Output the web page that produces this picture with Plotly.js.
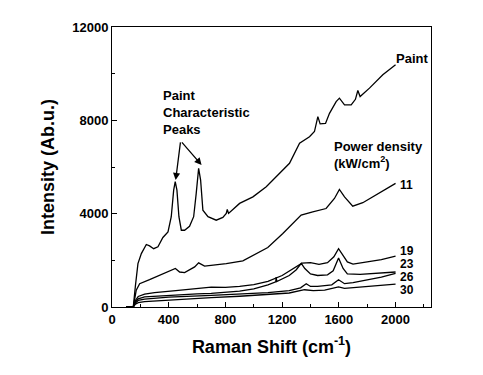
<!DOCTYPE html>
<html>
<head>
<meta charset="utf-8">
<script src="https://cdn.plot.ly/plotly-3.0.1.min.js"></script>
<style>html,body{margin:0;padding:0;background:#fff;}#chart{width:483px;height:375px;}</style>
</head>
<body>
<div id="chart"></div>
<script>
// Raman shift (cm^-1) and intensity for each spectrum
const paintX = [100,150,165,183,207,242,265,294,324,359,395,418,435,446,458,472,489,512,547,576,594,611,625,641,677,735,782,806,813,822,900,994,1088,1182,1252,1323,1393,1428,1452,1468,1506,1534,1581,1604,1640,1687,1717,1734,1750,1816,1910,2000];
const paintY = [0,0,900,1860,2290,2680,2620,2500,2580,2980,3220,3870,5010,5370,5010,3870,3290,3290,3460,3870,4870,5940,5440,4150,3870,3720,3840,4010,4180,4010,4440,4720,5150,5730,6160,7020,7300,7520,8160,7850,7870,8300,8800,8950,8660,8660,8900,9280,9020,9380,9950,10380];

const p11X = [100,150,171,195,265,359,418,447,477,512,583,611,653,806,923,1099,1205,1276,1334,1416,1510,1569,1604,1640,1698,1769,1863,2000];
const p11Y = [0,0,720,1000,1170,1430,1580,1650,1500,1477,1720,1890,1750,1860,1977,2550,3150,3580,3940,4080,4220,4650,5040,4720,4320,4470,4800,5300];

const p19X = [100,150,165,185,230,300,450,600,700,800,900,1000,1100,1200,1280,1340,1400,1460,1520,1565,1598,1625,1660,1700,1800,1900,2000];
const p19Y = [0,0,280,450,550,620,700,780,850,840,880,960,1100,1350,1650,1880,1900,1830,1900,2150,2500,2250,1930,1840,1920,2030,2180];

const p23X = [100,150,165,185,230,400,600,700,900,1000,1100,1155,1158,1162,1250,1300,1335,1360,1400,1450,1520,1560,1598,1630,1660,1750,1850,2000];
const p23Y = [0,0,220,350,430,500,560,580,680,780,950,1080,1280,1090,1350,1600,1870,1650,1420,1350,1380,1550,2100,1650,1420,1400,1430,1500];

const p26X = [100,150,165,185,230,400,700,900,1100,1250,1330,1370,1400,1450,1550,1598,1640,1700,1800,1900,2000];
const p26Y = [0,0,170,280,340,420,500,550,620,700,820,1000,880,880,950,1170,1000,1040,1150,1280,1440];

const p30X = [100,150,165,185,230,400,700,900,1100,1250,1358,1420,1500,1598,1640,1800,2000];
const p30Y = [0,0,120,190,230,300,400,460,530,600,740,700,720,860,800,870,980];

const seriesNames = ['Paint','11','19','23','26','30'];
const xTickVals = [0,400,800,1200,1600,2000];
const yTickVals = [0,4000,8000,12000];
const yTickText = ['0','4000','8000','12000'];

const FONT = 'Liberation Sans, Arial, Helvetica, sans-serif';
const xs = [paintX,p11X,p19X,p23X,p26X,p30X];
const ys = [paintY,p11Y,p19Y,p23Y,p26Y,p30Y];
const traces = xs.map((x,i)=>({
  x: x, y: ys[i], name: seriesNames[i], type:'scatter', mode:'lines',
  line:{color:'#000', width:1.3}, showlegend:false, hoverinfo:'skip'
}));

const labelFont = {family:FONT, size:13, color:'#000', weight:'bold'};
const numFont = {family:FONT, size:12, color:'#000', weight:'bold'};
const annotations = [
  {x:2000, y:10640, xref:'x', yref:'y', text:'Paint', showarrow:false, xanchor:'left', yanchor:'middle', xshift:-2, font:labelFont},
  {x:357, y:8320, xref:'x', yref:'y', text:'Paint<br>Characteristic<br>Peaks', showarrow:false, xanchor:'left', yanchor:'middle', align:'left', xshift:-2, font:labelFont},
  {x:1563, y:6495, xref:'x', yref:'y', text:'Power density<br>(kW/cm<sup>2</sup>)', showarrow:false, xanchor:'left', yanchor:'middle', align:'left', xshift:-2, font:labelFont},
  {x:2041, y:5230, xref:'x', yref:'y', text:'11', showarrow:false, xanchor:'left', yanchor:'middle', xshift:-2, borderpad:0, font:numFont},
  {x:2041, y:2420, xref:'x', yref:'y', text:'19', showarrow:false, xanchor:'left', yanchor:'middle', xshift:-2, borderpad:0, font:numFont},
  {x:2041, y:1860, xref:'x', yref:'y', text:'23', showarrow:false, xanchor:'left', yanchor:'middle', xshift:-2, borderpad:0, font:numFont},
  {x:2041, y:1290, xref:'x', yref:'y', text:'26', showarrow:false, xanchor:'left', yanchor:'middle', xshift:-2, borderpad:0, font:numFont},
  {x:2041, y:710, xref:'x', yref:'y', text:'30', showarrow:false, xanchor:'left', yanchor:'middle', xshift:-2, borderpad:0, font:numFont},
  {x:449, y:5440, ax:484, ay:7118, xref:'x', yref:'y', axref:'x', ayref:'y', text:'', showarrow:true, arrowhead:2, arrowsize:1.1, arrowwidth:1.3, arrowcolor:'#000'},
  {x:632, y:6087, ax:484, ay:7118, xref:'x', yref:'y', axref:'x', ayref:'y', text:'', showarrow:true, arrowhead:2, arrowsize:1.1, arrowwidth:1.3, arrowcolor:'#000'}
];

const layout = {
  width:483, height:375,
  margin:{l:112, r:52, t:27, b:68},
  paper_bgcolor:'#fff', plot_bgcolor:'#fff',
  font:{family:FONT, color:'#000'},
  xaxis:{
    range:[0,2250], tickvals:xTickVals, ticks:'inside', ticklen:5, tickwidth:1, tickcolor:'#000',
    minor:{dtick:200, tick0:0, ticks:'inside', ticklen:3, tickcolor:'#000'},
    showline:true, linecolor:'#000', linewidth:1, mirror:true, showgrid:false, zeroline:false,
    tickfont:{family:FONT, size:13, color:'#000', weight:'bold'},
    title:{text:'Raman Shift (cm<sup>-1</sup>)', font:{family:FONT, size:18, color:'#000', weight:'bold'}, standoff:14}
  },
  yaxis:{
    range:[0,12000], tickvals:yTickVals, ticktext:yTickText, ticks:'inside', ticklen:5, tickwidth:1, tickcolor:'#000',
    minor:{dtick:2000, tick0:0, ticks:'inside', ticklen:3, tickcolor:'#000'},
    showline:true, linecolor:'#000', linewidth:1, mirror:true, showgrid:false, zeroline:false,
    tickfont:{family:FONT, size:13, color:'#000', weight:'bold'},
    title:{text:'Intensity (Ab.u.)', font:{family:FONT, size:18, color:'#000', weight:'bold'}, standoff:12}
  },
  annotations: annotations
};

Plotly.newPlot('chart', traces, layout, {staticPlot:true, displayModeBar:false});
</script>
</body>
</html>
